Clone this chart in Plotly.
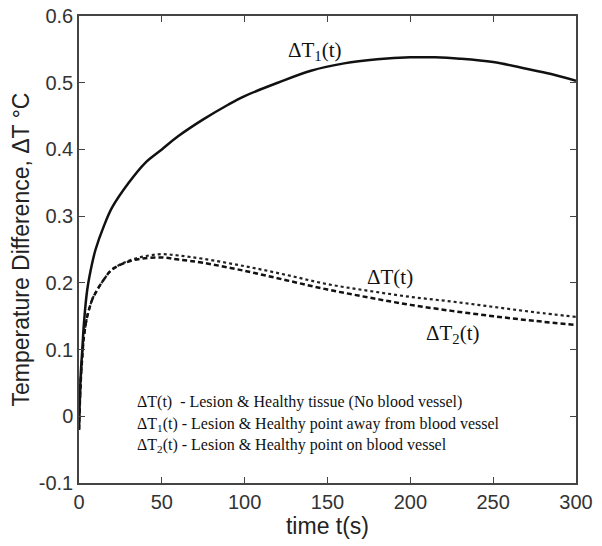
import plotly.graph_objects as go

# ---- data ----
t1 = [0, 1, 2, 3, 5, 8, 10, 15, 20, 30, 40, 50, 60, 75, 90, 100, 120, 140, 160, 180, 200, 215, 230, 250, 270, 285, 300]
dT1 = [-0.02, 0.06, 0.10, 0.14, 0.19, 0.23, 0.25, 0.285, 0.313, 0.35, 0.38, 0.40, 0.42, 0.445, 0.467, 0.48,
       0.50, 0.518, 0.529, 0.535, 0.538, 0.538, 0.536, 0.531, 0.521, 0.513, 0.503]

t0 = [0, 1, 2, 3, 5, 8, 10, 15, 20, 30, 40, 50, 60, 75, 100, 125, 150, 175, 200, 225, 250, 275, 300]
dT = [-0.02, 0.05, 0.09, 0.12, 0.15, 0.175, 0.185, 0.205, 0.22, 0.233, 0.24, 0.243, 0.241, 0.236, 0.225,
      0.212, 0.198, 0.188, 0.179, 0.172, 0.164, 0.156, 0.149]
dT2 = [-0.02, 0.05, 0.09, 0.12, 0.15, 0.175, 0.185, 0.205, 0.22, 0.232, 0.237, 0.238, 0.235, 0.23, 0.218,
       0.204, 0.19, 0.178, 0.167, 0.158, 0.15, 0.143, 0.137]

x_ticks = [0, 50, 100, 150, 200, 250, 300]
y_ticks = [-0.1, 0, 0.1, 0.2, 0.3, 0.4, 0.5, 0.6]
y_tick_labels = ["-0.1", "0", "0.1", "0.2", "0.3", "0.4", "0.5", "0.6"]

legend_lines = [
    "ΔT(t)  - Lesion &amp; Healthy tissue (No blood vessel)",
    "ΔT<sub>1</sub>(t) - Lesion &amp; Healthy point away from blood vessel",
    "ΔT<sub>2</sub>(t) - Lesion &amp; Healthy point on blood vessel",
]

fig = go.Figure()
fig.add_trace(go.Scatter(x=t0, y=dT, mode="lines", line=dict(color="#222", width=2.2, dash="dot"),
                         line_shape="spline", showlegend=False))
fig.add_trace(go.Scatter(x=t0, y=dT2, mode="lines", line=dict(color="#111", width=2.5, dash="5px,3px"),
                         line_shape="spline", showlegend=False))
fig.add_trace(go.Scatter(x=t1, y=dT1, mode="lines", line=dict(color="#111", width=2.5),
                         line_shape="spline", showlegend=False))

serif = "Liberation Serif, Times New Roman, serif"
sans = "Liberation Sans, Arial, sans-serif"

# curve labels (positioned in data coordinates)
fig.add_annotation(x=142.5, y=0.548, text="ΔT<sub>1</sub>(t)", showarrow=False,
                   font=dict(family=serif, size=21, color="#111"))
fig.add_annotation(x=188, y=0.2085, text="ΔT(t)", showarrow=False,
                   font=dict(family=serif, size=21, color="#111"))
fig.add_annotation(x=226, y=0.123, text="ΔT<sub>2</sub>(t)", showarrow=False,
                   font=dict(family=serif, size=21, color="#111"))

legend_y = [0.021, -0.012, -0.0435]
for txt, yy in zip(legend_lines, legend_y):
    fig.add_annotation(x=33.8, y=yy, text=txt, showarrow=False, xanchor="left",
                       font=dict(family=serif, size=16, color="#111"))

axis_common = dict(showline=True, linecolor="#444", linewidth=1.5, mirror="allticks",
                   ticks="inside", ticklen=6, tickwidth=1.2, tickcolor="#444",
                   showgrid=False, zeroline=False, automargin=False,
                   ticklabeloverflow="allow",
                   tickfont=dict(family=sans, size=20, color="#333"))

fig.update_xaxes(range=[0, 300], tickvals=x_ticks,
                 title=dict(text="time t(s)", font=dict(family=sans, size=23, color="#222"), standoff=0),
                 **axis_common)
fig.update_yaxes(range=[-0.1, 0.6], tickvals=y_ticks, ticktext=y_tick_labels,
                 title=dict(text="Temperature Difference, ΔT °C", font=dict(family=sans, size=23, color="#222"),
                            standoff=8),
                 **axis_common)

fig.update_layout(width=602, height=546, margin=dict(l=71, r=34, t=8, b=71),
                  plot_bgcolor="white", paper_bgcolor="white")

fig.write_html("out.html")
